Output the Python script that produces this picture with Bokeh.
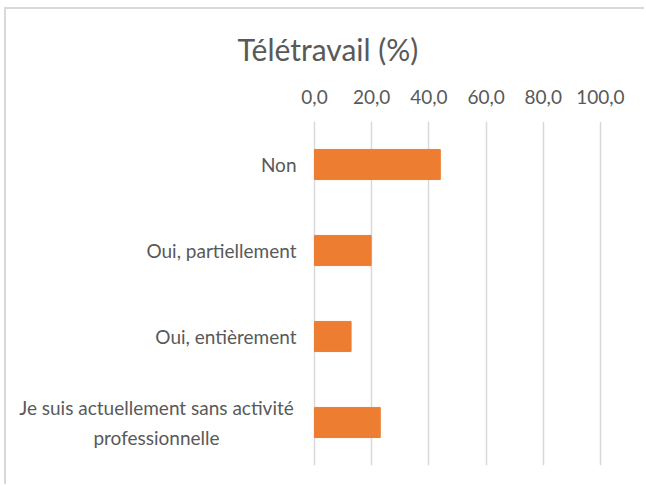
from bokeh.plotting import figure
from bokeh.models import Range1d, FactorRange
from bokeh.core.properties import value
from bokeh.embed import file_html
from bokeh.resources import INLINE

categories = ["Non", "Oui, partiellement", "Oui, entièrement",
              "Je suis actuellement sans activité\nprofessionnelle"]
values = [44.0, 19.8, 12.8, 23.0]
ticks = [0, 20, 40, 60, 80, 100]
tick_labels = ["0,0", "20,0", "40,0", "60,0", "80,0", "100,0"]
title_text = "Télétravail (%)"

FONT = "Lato"
GREY = "#595959"

p = figure(width=640, height=477, output_backend="svg", toolbar_location=None,
           y_range=FactorRange(factors=categories[::-1]), x_range=Range1d(-107.7, 116.1),
           x_axis_location="above",
           min_border_left=0, min_border_right=0, min_border_top=112, min_border_bottom=21)
p.styles = {"border-top": "2px solid #d9d9d9", "border-left": "2px solid #d9d9d9",
            "margin-top": "7px", "margin-left": "4px"}

p.hbar(y=categories, right=values, height=0.35, color="#ED7D31")

p.title.text = title_text
p.title.align = "left"
p.title.offset = 231
p.title.text_font = FONT
p.title.text_font_size = "30px"
p.title.text_font_style = "normal"
p.title.text_color = GREY
p.title.standoff = 39

p.outline_line_color = None
p.ygrid.grid_line_color = None
p.xgrid.grid_line_color = "#d9d9d9"
p.xgrid.grid_line_width = 1.5
p.xaxis.ticker = ticks
p.xaxis.major_label_overrides = {t: l for t, l in zip(ticks, tick_labels)}
p.xaxis.axis_line_color = None
p.xaxis.major_tick_line_color = None
p.xaxis.minor_tick_line_color = None
p.xaxis.major_label_text_color = GREY
p.xaxis.major_label_text_font = FONT
p.xaxis.major_label_text_font_size = "19px"
p.xaxis.major_label_standoff = 12
p.yaxis.visible = False

# category labels (single line: right aligned; two-line label: centred lines)
single = categories[:3]
multi = categories[3:]
p.text(x=[0] * len(single), y=single, text=single, text_align="right", text_baseline="middle",
       x_offset=-18, text_font=value(FONT), text_font_size="19px", text_color=GREY)
p.text(x=[0] * len(multi), y=multi, text=multi, text_align="center", text_baseline="middle",
       x_offset=-158, text_line_height=1.3,
       text_font=value(FONT), text_font_size="19px", text_color=GREY)

open("out.html", "w").write(file_html(p, INLINE))
